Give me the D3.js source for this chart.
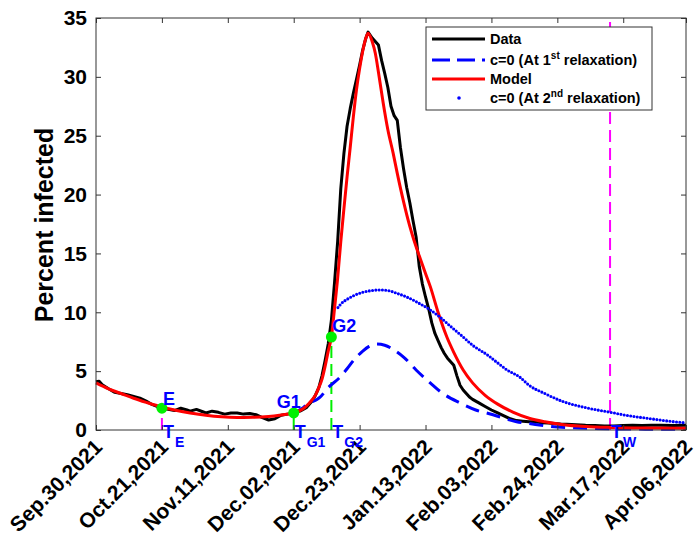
<!DOCTYPE html>
<html>
<head>
<meta charset="utf-8">
<script src="https://cdn.jsdelivr.net/npm/d3@7"></script>
<style>
  html, body { margin: 0; padding: 0; background: #fff; }
  svg { display: block; }
  text { font-family: "Liberation Sans", Arial, Helvetica, sans-serif; font-weight: bold; }
</style>
</head>
<body>
<div id="chart"></div>
<script>
// tick dates and labels
const startDate = "2021-09-30";
const xTickDates = ["2021-09-30", "2021-10-21", "2021-11-11", "2021-12-02", "2021-12-23",
                    "2022-01-13", "2022-02-03", "2022-02-24", "2022-03-17", "2022-04-06"];
const xTickLabels = ["Sep.30,2021", "Oct.21,2021", "Nov.11,2021", "Dec.02,2021", "Dec.23,2021",
                     "Jan.13,2022", "Feb.03,2022", "Feb.24,2022", "Mar.17,2022", "Apr.06,2022"];
const yTicks = [0, 5, 10, 15, 20, 25, 30, 35];

// series: [days since Sep.30,2021, percent infected]
const dataSeries = [
  [0, 4.1], [1, 4.15], [2, 3.85], [4, 3.5], [6, 3.2], [8, 3.1], [10, 3.0], [12, 2.85],
  [14, 2.7], [16, 2.45], [18, 2.15], [20, 1.95], [21, 1.85], [23, 1.75], [25, 1.65],
  [27, 1.85], [29, 1.7], [30, 1.6], [32, 1.75], [34, 1.55], [35, 1.45], [37, 1.6],
  [39, 1.5], [41, 1.35], [43, 1.45], [45, 1.45], [47, 1.35], [49, 1.4], [51, 1.3],
  [53, 1.05], [55, 0.85], [57, 0.95], [59, 1.25], [61, 1.35], [63, 1.45], [65, 1.6],
  [67, 1.9], [69, 2.5], [70, 3.0], [71, 3.6], [72, 4.6], [73, 5.9], [74, 7.3], [75, 9.3],
  [76, 12.5], [77, 16.0], [78, 20.5], [79, 23.5], [80, 25.8], [81, 27.3], [82, 28.6],
  [83, 29.8], [84, 31.0], [85, 32.3], [86, 33.3], [86.7, 33.8], [88, 33.3], [89, 33.0],
  [90, 32.7], [91, 31.4], [92, 30.3], [93, 29.1], [94, 27.5], [95, 26.7], [96, 26.3],
  [97, 24.0], [98, 22.2], [99, 20.6], [100, 19.3], [101, 17.8], [102, 16.4], [103, 13.9],
  [104, 12.4], [105, 11.3], [106, 10.3], [107, 9.1], [108, 8.2], [109, 7.6], [110, 7.0],
  [111, 6.5], [112, 6.1], [113, 5.8], [114, 5.5], [115, 4.6], [116, 3.8], [117, 3.4],
  [118, 3.1], [119, 2.8], [120, 2.6], [121, 2.45], [122, 2.3], [124, 2.0], [126, 1.7],
  [128, 1.45], [130, 1.2], [132, 0.95], [134, 0.8], [136, 0.75], [138, 0.7], [140, 0.7],
  [142, 0.62], [144, 0.6], [146, 0.55], [148, 0.5], [150, 0.48], [153, 0.45], [156, 0.4],
  [159, 0.38], [162, 0.35], [165, 0.33], [168, 0.38], [171, 0.4], [174, 0.38], [177, 0.4],
  [180, 0.4], [184, 0.38], [188, 0.4]
];

const modelSeries = [
  [0, 4.0], [4, 3.5], [8, 3.1], [12, 2.7], [16, 2.35], [21, 1.95], [25, 1.7], [30, 1.45],
  [35, 1.25], [40, 1.12], [45, 1.07], [50, 1.08], [55, 1.15], [59, 1.28], [63, 1.45],
  [66, 1.8], [68, 2.3], [70, 3.0], [71, 3.6], [72, 4.3], [73, 5.4], [74, 6.7], [75, 7.9],
  [76, 10.3], [77, 12.9], [78, 16.0], [79, 18.8], [80, 21.5], [81, 24.0], [82, 26.6],
  [83, 28.9], [84, 30.7], [85, 32.2], [86, 33.3], [86.7, 33.7], [88, 33.0], [89, 32.0],
  [90, 30.4], [91.5, 27.8], [93, 25.5], [94.7, 23.5], [96, 21.8], [98, 19.4], [100, 17.3],
  [101, 16.4], [103, 14.8], [105, 13.3], [106.5, 12.2], [109, 10.0], [111.8, 7.9],
  [114, 6.6], [117, 5.1], [120, 4.0], [124, 2.95], [128, 2.2], [133, 1.5], [138, 1.0],
  [143, 0.7], [149, 0.45], [156, 0.3], [164, 0.22], [175, 0.17], [188, 0.15]
];

const relax1Series = [
  [63, 1.45], [66, 1.9], [68, 2.3], [70.4, 2.6], [71.4, 2.8], [74, 3.6], [77.8, 4.5],
  [80, 5.2], [82, 5.9], [85, 6.7], [87, 7.1], [89.5, 7.3], [92, 7.2], [95, 6.8], [98, 6.2],
  [102, 5.1], [106.5, 4.0], [110, 3.2], [116, 2.3], [121, 1.7], [126.5, 1.3], [130, 1.0],
  [134, 0.7], [138, 0.55], [145, 0.3], [154, 0.17], [165, 0.1], [175, 0.07], [188, 0.05]
];

const relax2Series = [
  [77.1, 10.4], [78, 10.7], [80, 11.1], [82, 11.4], [85, 11.7], [88, 11.85], [90.5, 11.9],
  [93, 11.85], [96, 11.6], [99, 11.3], [102, 10.9], [106.5, 10.2], [110, 9.5], [113, 8.8],
  [117, 7.9], [120, 7.2], [124.6, 6.4], [128, 5.7], [131, 5.1], [135, 4.5], [138, 3.8],
  [143, 3.1], [149, 2.4], [156, 1.9], [164, 1.5], [170, 1.2], [175.6, 1.0], [181, 0.8],
  [188, 0.6]
];

// marked points
const markNames = ["E", "G1", "G2"];
const markDays = [21, 63, 75];
const markValues = [1.85, 1.45, 7.9];
const markLineColors = ["#ff00ff", "#00ee00", "#00ee00"];
const tWDay = 163.8;
const tSubs = ["E", "G1", "G2", "W"];

const legendLabels = ["Data", "c=0 (At 1|st| relaxation)", "Model", "c=0 (At 2|nd| relaxation)"];

// 기본 설정
const width = 697, height = 540;
const margin = { left: 96, right: 11, top: 18, bottom: 110 };
const parse = d3.timeParse("%Y-%m-%d");
const t0 = parse(startDate);
const dayToDate = d => new Date(t0.getTime() + d * 864e5);

const svg = d3.select("#chart").append("svg")
  .attr("width", width).attr("height", height);

const x = d3.scaleTime()
  .domain([t0, parse(xTickDates[xTickDates.length - 1])])
  .range([margin.left, width - margin.right]);
const y = d3.scaleLinear()
  .domain([0, 35])
  .range([height - margin.bottom, margin.top]);

const x0 = margin.left, x1 = width - margin.right;
const yTop = margin.top, yBot = height - margin.bottom;

// vertical marker lines (drawn from axis up)
const vlines = svg.append("g");
markDays.forEach((d, i) => {
  vlines.append("line")
    .attr("x1", x(dayToDate(d))).attr("x2", x(dayToDate(d)))
    .attr("y1", yBot).attr("y2", y(markValues[i]))
    .attr("stroke", markLineColors[i]).attr("stroke-width", 2)
    .attr("stroke-dasharray", "12,6");
});
vlines.append("line")
  .attr("x1", x(dayToDate(tWDay))).attr("x2", x(dayToDate(tWDay)))
  .attr("y1", yBot).attr("y2", yTop)
  .attr("stroke", "#ff00ff").attr("stroke-width", 2)
  .attr("stroke-dasharray", "12,6");

// 라인 생성기
const lineLin = d3.line().x(d => x(dayToDate(d[0]))).y(d => y(d[1]));
const lineSmooth = d3.line().x(d => x(dayToDate(d[0]))).y(d => y(d[1])).curve(d3.curveMonotoneX);

const curves = svg.append("g").attr("fill", "none");
curves.append("path").attr("d", lineLin(dataSeries))
  .attr("stroke", "#000").attr("stroke-width", 3).attr("stroke-linejoin", "round");
curves.append("path").attr("d", lineSmooth(relax1Series))
  .attr("stroke", "#0000ff").attr("stroke-width", 3).attr("stroke-dasharray", "14,8");
curves.append("path").attr("d", lineSmooth(modelSeries))
  .attr("stroke", "#ff0000").attr("stroke-width", 3);
curves.append("path").attr("d", lineSmooth(relax2Series))
  .attr("stroke", "#0000ff").attr("stroke-width", 3.1)
  .attr("stroke-linecap", "round").attr("stroke-dasharray", "0,3.3");

// axes
const axisColor = "#333";
const gx = svg.append("g").attr("transform", `translate(0,${yBot})`)
  .call(d3.axisBottom(x).tickValues(xTickDates.map(parse))
    .tickFormat((d, i) => xTickLabels[i]).tickSizeInner(-5).tickSizeOuter(0));
gx.selectAll("text")
  .attr("font-size", 21).attr("fill", "#000")
  .attr("text-anchor", "end")
  .attr("transform", "translate(-4,7) rotate(-45)")
  .attr("dy", "0.75em").attr("y", 0).attr("x", 0);

const gy = svg.append("g").attr("transform", `translate(${x0},0)`)
  .call(d3.axisLeft(y).tickValues(yTicks).tickSizeInner(-5).tickSizeOuter(0).tickPadding(9));
gy.selectAll("text").attr("font-size", 21).attr("fill", "#000");

svg.append("g").attr("transform", `translate(0,${yTop})`)
  .call(d3.axisTop(x).tickValues(xTickDates.map(parse)).tickFormat("").tickSizeInner(-5).tickSizeOuter(0));
svg.append("g").attr("transform", `translate(${x1},0)`)
  .call(d3.axisRight(y).tickValues(yTicks).tickFormat("").tickSizeInner(-5).tickSizeOuter(0));

svg.selectAll(".domain").remove();
svg.selectAll(".tick line").attr("stroke", axisColor);
svg.append("rect")
  .attr("x", x0).attr("y", yTop).attr("width", x1 - x0).attr("height", yBot - yTop)
  .attr("fill", "none").attr("stroke", axisColor).attr("stroke-width", 1);

// y label
svg.append("text")
  .attr("transform", `translate(53,${(yTop + yBot) / 2 + 1}) rotate(-90)`)
  .attr("text-anchor", "middle").attr("font-size", 25).text("Percent infected");

// marked points and labels
const marks = svg.append("g");
markDays.forEach((d, i) => {
  marks.append("circle")
    .attr("cx", x(dayToDate(d))).attr("cy", y(markValues[i])).attr("r", 5.5)
    .attr("fill", "#00f000");
});
const labelOffsets = [[1, -3], [-17, -5], [1, -5]];
markDays.forEach((d, i) => {
  marks.append("text")
    .attr("x", x(dayToDate(d)) + labelOffsets[i][0])
    .attr("y", y(markValues[i]) + labelOffsets[i][1])
    .attr("font-size", 18).attr("fill", "#0000ff").text(markNames[i]);
});
const tDays = markDays.concat([tWDay]);
tDays.forEach((d, i) => {
  const t = marks.append("text")
    .attr("x", x(dayToDate(d)) + 1).attr("y", yBot + 8)
    .attr("font-size", 18).attr("fill", "#0000ff");
  t.append("tspan").text("T");
  t.append("tspan").attr("font-size", 14).attr("dx", 1).attr("dy", 9).text(tSubs[i]);
});

// legend
const lg = svg.append("g");
lg.append("rect").attr("x", 426).attr("y", 27).attr("width", 226).attr("height", 83)
  .attr("fill", "#fff").attr("stroke", axisColor).attr("stroke-width", 1);
const rowY = [39, 60, 79, 98];
const lx0 = 432, lx1 = 485;
lg.append("line").attr("x1", lx0).attr("x2", lx1).attr("y1", rowY[0]).attr("y2", rowY[0])
  .attr("stroke", "#000").attr("stroke-width", 3);
lg.append("line").attr("x1", lx0).attr("x2", lx1).attr("y1", rowY[1]).attr("y2", rowY[1])
  .attr("stroke", "#0000ff").attr("stroke-width", 3).attr("stroke-dasharray", "18,7");
lg.append("line").attr("x1", lx0).attr("x2", lx1).attr("y1", rowY[2]).attr("y2", rowY[2])
  .attr("stroke", "#ff0000").attr("stroke-width", 3);
lg.append("circle").attr("cx", 459).attr("cy", rowY[3]).attr("r", 1.8).attr("fill", "#0000ff");

legendLabels.forEach((lab, i) => {
  const parts = lab.split("|");
  const t = lg.append("text").attr("x", 490).attr("y", rowY[i]).attr("dy", "0.36em")
    .attr("font-size", 14.5).attr("fill", "#000");
  t.append("tspan").text(parts[0]);
  if (parts.length > 1) {
    t.append("tspan").attr("font-size", 10).attr("dy", -6).text(parts[1]);
    t.append("tspan").attr("dy", 6).text(parts[2]);
  }
});
</script>
</body>
</html>
